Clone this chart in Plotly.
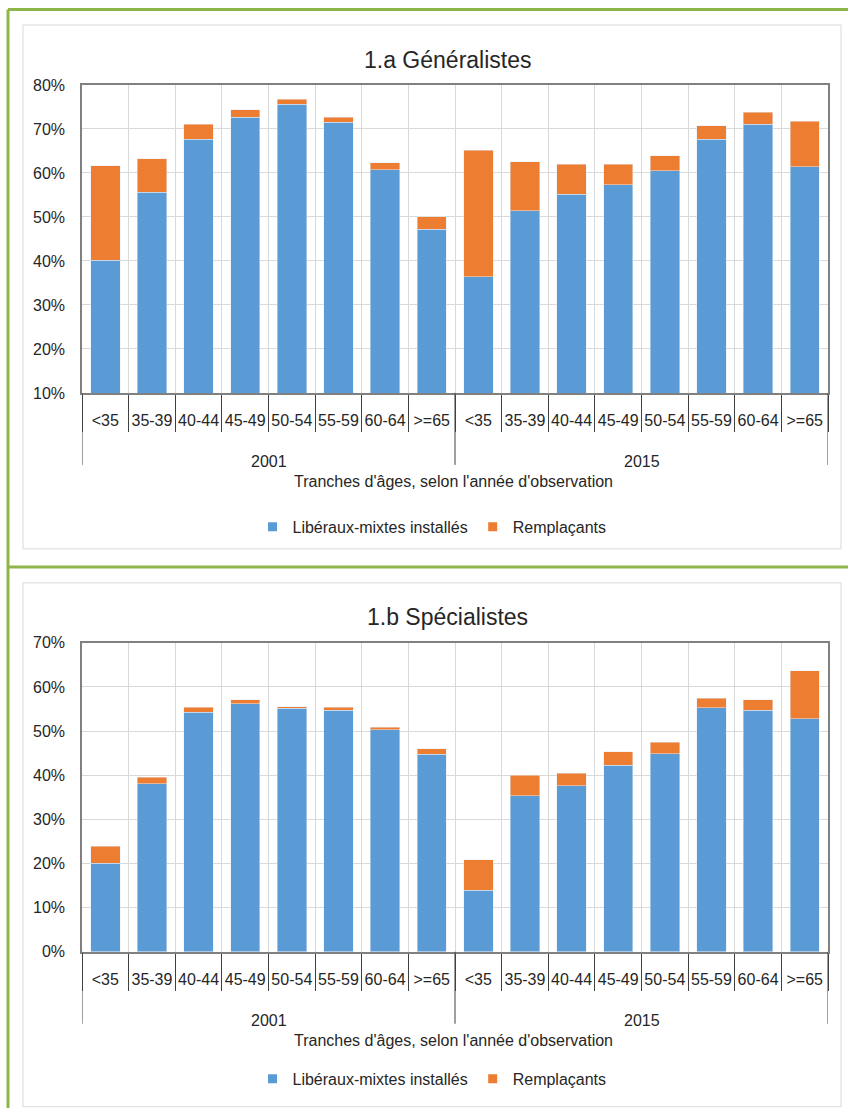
import plotly.graph_objects as go

# ---------------- data ----------------
years = ["2001", "2015"]
ages = ["<35", "35-39", "40-44", "45-49", "50-54", "55-59", "60-64", ">=65"]
series_names = ["Libéraux-mixtes installés", "Remplaçants"]
panel_titles = ["1.a Généralistes", "1.b Spécialistes"]
axis_title = "Tranches d'âges, selon l'année d'observation"

# 1.a Généralistes (in %)
gen_liberaux = [40.2, 55.6, 67.7, 72.7, 75.6, 71.5, 60.7, 47.2,
                36.4, 51.4, 55.2, 57.3, 60.5, 67.7, 71.1, 61.4]
gen_remplacants = [21.4, 7.6, 3.4, 1.7, 1.2, 1.2, 1.6, 2.9,
                   28.8, 11.2, 6.8, 4.7, 3.4, 3.0, 2.7, 10.4]

# 1.b Spécialistes (in %)
spec_liberaux = [20.1, 38.1, 54.3, 56.2, 55.2, 54.7, 50.3, 44.8,
                 13.9, 35.4, 37.6, 42.3, 44.9, 55.3, 54.7, 52.8]
spec_remplacants = [3.8, 1.4, 1.1, 0.9, 0.3, 0.7, 0.6, 1.2,
                    6.9, 4.6, 2.9, 3.0, 2.6, 2.1, 2.4, 10.9]

y_ranges = [[10, 80], [0, 70]]

# ---------------- style ----------------
W, H = 848, 1117
BLUE = "#5b9bd5"
ORANGE = "#ed7d31"
GREEN = "#8db548"
GRID = "#d9d9d9"
FRAME = "#808080"
TXT = "#262626"
FONT = "Liberation Sans, Arial, sans-serif"
FS = 16


def ry(y):
    # target pixel row -> layout pixel row (the capture is slightly squeezed vertically)
    return (y - 8) / 0.985


def pyp(y):
    return 1 - ry(y) / H


def pxp(x):
    return x / W


x_left, x_right = 82, 828
panels_px = [(85, 393), (643, 952)]           # plot areas (top, bottom)
title_px = [60, 617]
label_ofs = dict(year=69, title=89)
legend_px = [527, 1079]

keys = [f"{y} {a}" for y in years for a in ages]
ticktext = [a for _ in years for a in ages]

fig = go.Figure()

datasets = [(gen_liberaux, gen_remplacants), (spec_liberaux, spec_remplacants)]
for i, (lib, rem) in enumerate(datasets):
    xa = "x" if i == 0 else "x2"
    ya = "y" if i == 0 else "y2"
    lg = "legend" if i == 0 else "legend2"
    fig.add_trace(go.Bar(x=keys, y=lib, name=series_names[0], marker_color=BLUE,
                         xaxis=xa, yaxis=ya, showlegend=False, hoverinfo="y"))
    fig.add_trace(go.Bar(x=keys, y=rem, name=series_names[1], marker_color=ORANGE,
                         xaxis=xa, yaxis=ya, showlegend=False, hoverinfo="y"))
    for name, col in zip(series_names, [BLUE, ORANGE]):
        fig.add_trace(go.Scatter(x=[None], y=[None], mode="markers", name=name,
                                 marker=dict(symbol="square", size=9, color=col),
                                 xaxis=xa, yaxis=ya, legend=lg))

n = len(ages)
shapes = []
annotations = []

# outer green frame + separator
shapes.append(dict(type="line", xref="paper", yref="paper", x0=pxp(8), x1=1.0,
                   y0=pyp(9.5), y1=pyp(9.5), line=dict(color=GREEN, width=3)))
shapes.append(dict(type="line", xref="paper", yref="paper", x0=pxp(8), x1=pxp(8),
                   y0=pyp(9.5), y1=0, line=dict(color=GREEN, width=3)))
shapes.append(dict(type="line", xref="paper", yref="paper", x0=pxp(8), x1=1.0,
                   y0=pyp(567), y1=pyp(567), line=dict(color=GREEN, width=3)))
# inner chart frames
for (t, b) in [(25, 549), (583, 1107)]:
    shapes.append(dict(type="rect", xref="paper", yref="paper", x0=pxp(23), x1=pxp(841),
                       y0=pyp(b), y1=pyp(t), line=dict(color=GRID, width=1)))

layout_axes = {}
for i, (top, bot) in enumerate(panels_px):
    sfx = "" if i == 0 else "2"
    layout_axes["xaxis" + sfx] = dict(
        domain=[pxp(x_left), pxp(x_right)], anchor="y" + sfx,
        type="category", categoryorder="array", categoryarray=keys,
        tickmode="array", tickvals=keys, ticktext=ticktext, tickangle=0,
        tickson="boundaries", ticks="outside", ticklen=37, tickwidth=1, tickcolor="#404040",
        ticklabelstandoff=12,
        showgrid=True, gridcolor=GRID, gridwidth=1,
        showline=True, linecolor=FRAME, linewidth=1.5, mirror=True,
        tickfont=dict(family=FONT, size=FS, color=TXT),
        range=[-0.5, len(keys) - 0.5], fixedrange=True,
    )
    layout_axes["yaxis" + sfx] = dict(
        domain=[pyp(bot), pyp(top)], anchor="x" + sfx,
        range=y_ranges[i], dtick=10, ticksuffix="%",
        showgrid=True, gridcolor=GRID, gridwidth=1,
        showline=True, linecolor=FRAME, linewidth=1.5, mirror=True,
        ticks="", ticklabelstandoff=12,
        tickfont=dict(family=FONT, size=FS, color=TXT),
        zeroline=False, fixedrange=True,
    )
    xref = "x" + sfx
    # group dividers
    for k in range(len(years) + 1):
        xb = k * n - 0.5
        shapes.append(dict(type="line", xref=xref, yref="paper", x0=xb, x1=xb,
                           y0=pyp(bot), y1=pyp(bot + 72),
                           line=dict(color="#404040", width=1)))
    # year labels
    for k, yr in enumerate(years):
        annotations.append(dict(x=k * n + (n - 1) / 2, xref=xref,
                                y=pyp(bot + label_ofs["year"]), yref="paper",
                                text=yr, showarrow=False, xanchor="center", yanchor="middle",
                                font=dict(family=FONT, size=FS, color=TXT)))
    # axis title
    annotations.append(dict(x=pxp(454), xref="paper", y=pyp(bot + label_ofs["title"]),
                            yref="paper", text=axis_title, showarrow=False,
                            xanchor="center", yanchor="middle",
                            font=dict(family=FONT, size=FS, color=TXT)))
    # panel title
    annotations.append(dict(x=pxp(447), xref="paper", y=pyp(title_px[i]), yref="paper",
                            text=panel_titles[i], showarrow=False, xanchor="center",
                            yanchor="middle", font=dict(family=FONT, size=23, color=TXT)))

legend_common = dict(orientation="h", xanchor="center", yanchor="middle",
                     traceorder="normal",
                     font=dict(family=FONT, size=FS, color=TXT), bgcolor="rgba(0,0,0,0)",
                     itemclick=False, itemdoubleclick=False)

fig.update_layout(
    width=W, height=H, autosize=False,
    margin=dict(l=0, r=0, t=0, b=0),
    paper_bgcolor="white", plot_bgcolor="white",
    barmode="stack", bargap=0.37,
    font=dict(family=FONT, size=FS, color=TXT),
    shapes=shapes, annotations=annotations,
    legend=dict(x=pxp(432), y=pyp(legend_px[0]), **legend_common),
    legend2=dict(x=pxp(432), y=pyp(legend_px[1]), **legend_common),
    **layout_axes,
)

fig.write_html(
    "out.html",
    config={"displayModeBar": False},
    post_script=(
        "document.documentElement.style.margin='0';"
        "document.documentElement.style.padding='0';"
        "document.documentElement.style.overflow='hidden';"
        "document.body.style.margin='0';"
        "document.body.style.padding='0';"
        "document.body.style.overflow='hidden';"
        "var gd=document.getElementById('{plot_id}');"
        "gd.style.position='fixed';gd.style.top='0px';gd.style.left='0px';"
    ),
)
